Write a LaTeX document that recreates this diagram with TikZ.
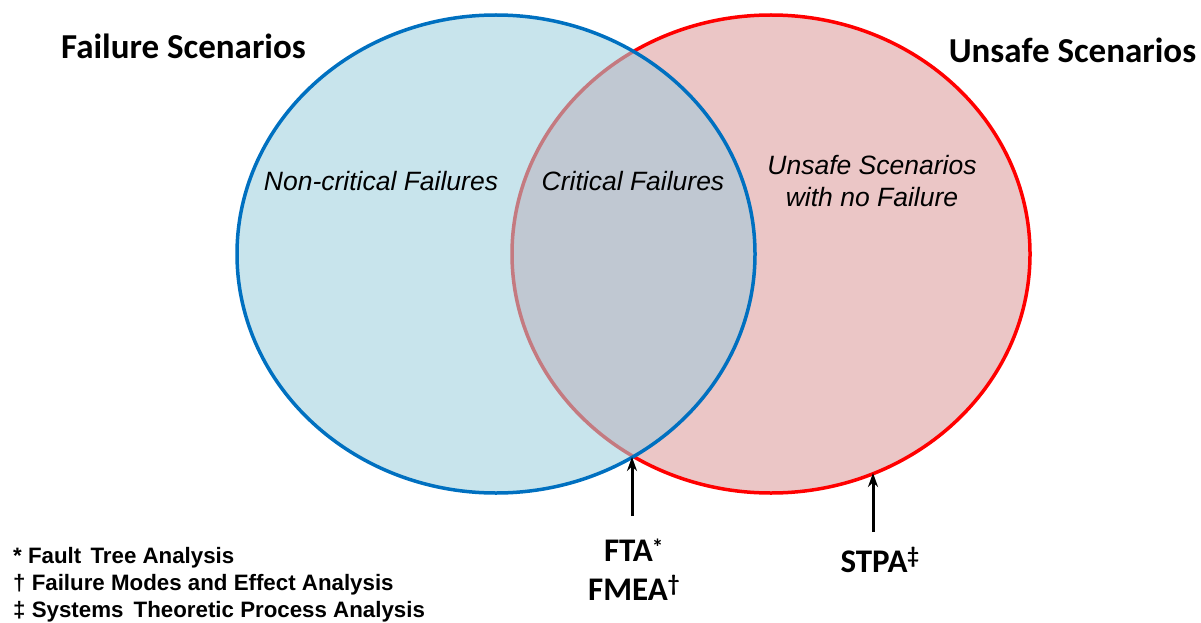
\documentclass[tikz,border=0pt]{standalone}
\usepackage{fontspec}
\setmainfont{Liberation Sans}
\newfontfamily\calfont{Carlito}
\usetikzlibrary{arrows.meta}
\definecolor{bfill}{HTML}{C8E4EC}
\definecolor{rfill}{HTML}{EBC6C6}
\definecolor{ifill}{HTML}{C0C8D2}
\definecolor{bline}{HTML}{0070C0}
\definecolor{rline}{HTML}{FF0000}
\definecolor{fline}{HTML}{C47A80}
\tikzset{
  title/.style={font=\calfont\bfseries\fontsize{35}{35}\selectfont, inner sep=0pt},
  inlabel/.style={font=\itshape\fontsize{26.5}{32}\selectfont, align=center, inner sep=0pt},
  method/.style={font=\calfont\bfseries\fontsize{33}{39}\selectfont, align=center, inner sep=0pt},
  note/.style={font=\bfseries\fontsize{22.3}{22}\selectfont, anchor=west, inner sep=0pt},
  arr/.style={line width=3pt, -{Stealth[length=14pt,width=10pt]}},
}
\begin{document}
\begin{tikzpicture}[x=1pt,y=-1pt]
\useasboundingbox (0,0) rectangle (1201,623);
\def\blueE{(496,254) ellipse [x radius=259, y radius=239]}
\def\redE{(771,254) ellipse [x radius=259, y radius=239]}
\fill[rfill] \redE;
\fill[bfill] \blueE;
\begin{scope}
  \clip \redE;
  \fill[ifill] \blueE;
\end{scope}
\begin{scope}[even odd rule]
  \clip (-10,-10) rectangle (1211,633) \blueE;
  \draw[rline, line width=3.5pt] \redE;
\end{scope}
\begin{scope}
  \clip \blueE;
  \draw[fline, line width=3.5pt] \redE;
\end{scope}
\draw[bline, line width=3.5pt] \blueE;

\node[title] (fs) at (183.5,46) {Failure Scenarios};
\node[title] (us) at (1072.5,50) {Unsafe Scenarios};

\node[inlabel] (nc) at (381,181) {Non-critical Failures};
\node[inlabel] (cf) at (633,181) {Critical Failures};
\node[inlabel] (un) at (872,181) {Unsafe Scenarios\\with no Failure};

\node[method] (fta) at (634,570) {FTA\kern-1pt\raisebox{-3pt}{\textsuperscript{*}}\\FMEA\textsuperscript{†}};
\node[method] (stpa) at (880,560) {STPA\textsuperscript{‡}};

\coordinate (x1) at (632,457);
\coordinate (s1) at (632,516);
\coordinate (x2) at (873,473);
\coordinate (s2) at (873,532);
\draw[arr] (s1) -- (x1);
\draw[arr] (s2) -- (x2);

\node[note] (n1) at (13,558) {* Fault\hspace{3pt} Tree Analysis};
\node[note] (n2) at (13,585) {† Failure Modes and Effect Analysis};
\node[note] (n3) at (13,612) {‡ Systems\hspace{4pt} Theoretic Process Analysis};
\end{tikzpicture}
\end{document}
